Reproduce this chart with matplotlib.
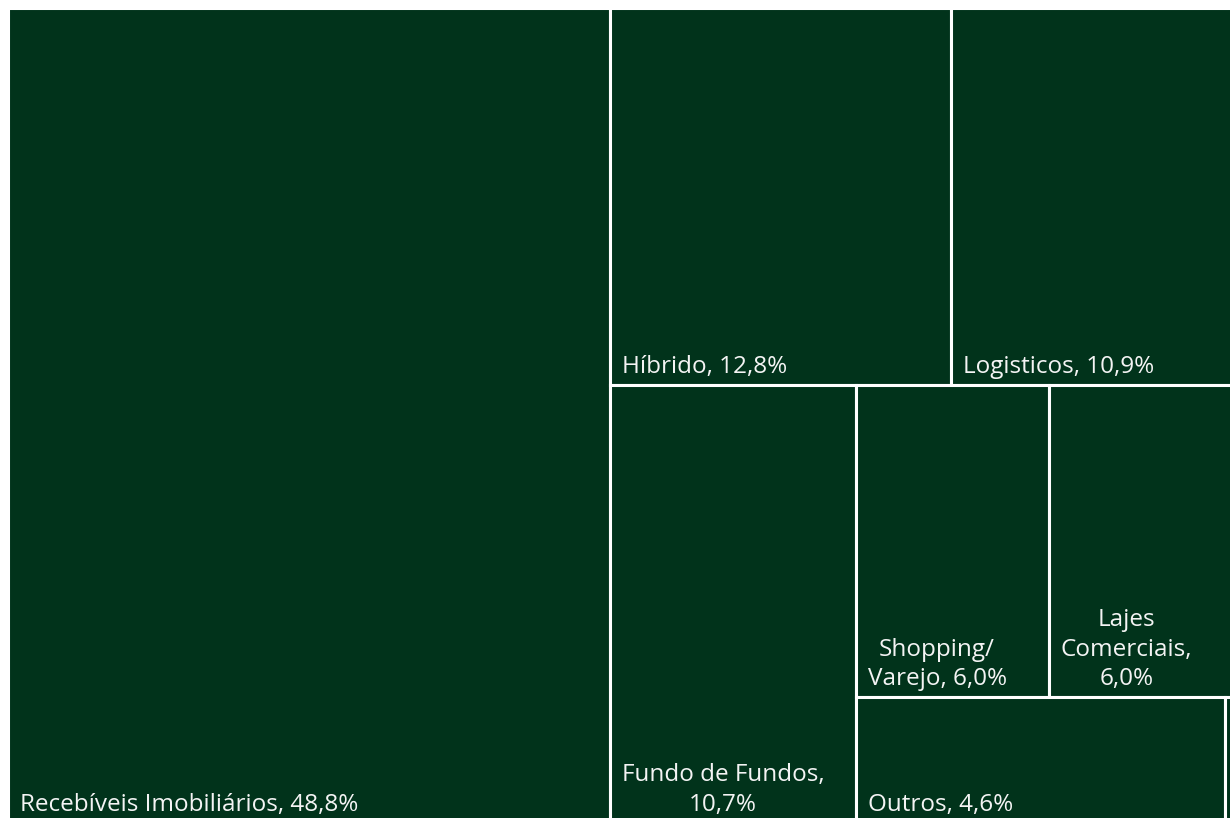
import matplotlib
matplotlib.use("Agg")
import matplotlib.pyplot as plt
from matplotlib.patches import Rectangle

# data (percent of portfolio)
names = ["Recebíveis Imobiliários", "Híbrido", "Logisticos", "Fundo de Fundos",
         "Shopping/\nVarejo", "Lajes\nComerciais", "Outros", ""]
seps = [", ", ", ", ", ", ",\n", ", ", ",\n", ", ", ""]
values = [48.8, 12.8, 10.9, 10.7, 6.0, 6.0, 4.6, 0.2]

green = "#01331b"


def worst(row, side):
    s = sum(row)
    return max(max(side * side * r / (s * s), s * s / (side * side * r)) for r in row)


def squarify(areas, x, y, w, h):
    # squarified treemap layout
    rects = []
    areas = list(areas)
    while areas:
        side = min(w, h)
        row = [areas[0]]
        i = 1
        while i < len(areas) and worst(row + [areas[i]], side) <= worst(row, side):
            row.append(areas[i])
            i += 1
        areas = areas[i:]
        s = sum(row)
        if w >= h:
            cw = s / h
            yy = y
            for a in row:
                rects.append((x, yy, cw, a / cw))
                yy += a / cw
            x += cw
            w -= cw
        else:
            rh = s / w
            xx = x
            for a in row:
                rects.append((xx, y, a / rh, rh))
                xx += a / rh
            y += rh
            h -= rh
    return rects


W, H = 1234.0, 815.0
total = sum(values)
areas = [v / total * W * H for v in values]
rects = squarify(areas, 0, 0, W, H)

fig = plt.figure(figsize=(12.3, 8.18), dpi=100)
ax = fig.add_axes([7.5 / 1230, -4.5 / 818, W / 1230, H / 818])
ax.set_xlim(0, W)
ax.set_ylim(H, 0)
ax.axis("off")

for (x, y, w, h), name, sep, v in zip(rects, names, seps, values):
    ax.add_patch(Rectangle((x, y), w, h, facecolor=green, edgecolor="white", linewidth=2.2))
    if name:
        label = name + sep + ("%.1f" % v).replace(".", ",") + "%"
        ax.text(x + 12, y + h - 6, label, color="#f4f4f4", fontsize=17.5,
                family="Open Sans", ha="left", va="bottom", multialignment="center",
                linespacing=1.32)

fig.savefig("out.png", dpi=100)
